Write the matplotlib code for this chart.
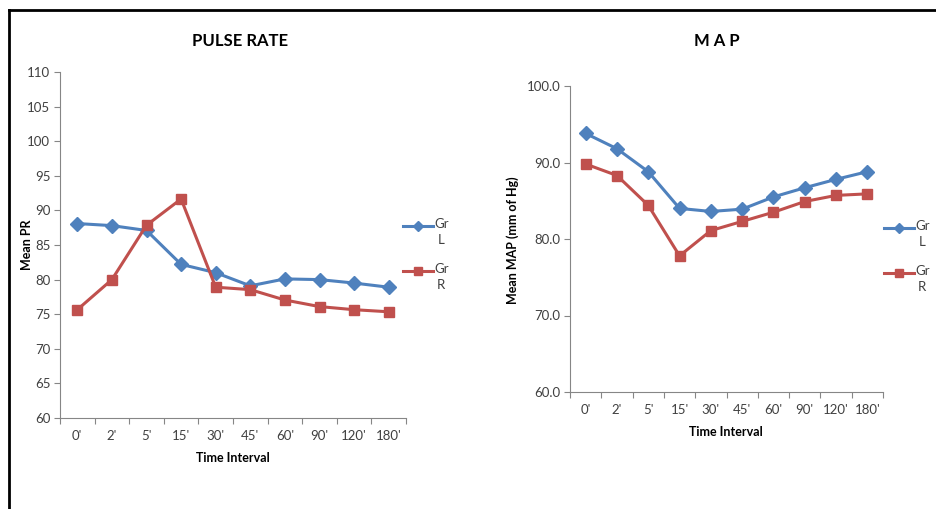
import matplotlib.pyplot as plt
from matplotlib.lines import Line2D

plt.rcParams['font.family'] = ['Lato', 'DejaVu Sans']

# Data
times = ["0'", "2'", "5'", "15'", "30'", "45'", "60'", "90'", "120'", "180'"]
pr_gr_l = [88.1, 87.8, 87.1, 82.2, 81.0, 79.1, 80.1, 80.0, 79.5, 78.9]
pr_gr_r = [75.65, 80.0, 87.85, 91.65, 78.9, 78.55, 77.05, 76.1, 75.65, 75.35]
map_gr_l = [93.8, 91.8, 88.8, 84.0, 83.6, 83.9, 85.5, 86.7, 87.8, 88.8]
map_gr_r = [89.8, 88.3, 84.4, 77.8, 81.1, 82.3, 83.5, 84.9, 85.7, 85.9]

blue = '#4F81BD'
red = '#C0504D'
axis_gray = '#868686'
text_col = '#404040'

W, H = 936, 509
fig = plt.figure(figsize=(W / 100, H / 100), dpi=100)


def px(x, y):
    # pixel position -> figure fraction
    return x / W, 1 - y / H


def style_axes(ax, ylim, yticks, fmt):
    n = len(times)
    x = list(range(n))
    ax.set_xlim(-0.5, n - 0.5)
    ax.set_ylim(*ylim)
    ax.set_yticks(yticks)
    ax.set_yticklabels([fmt.format(v) for v in yticks], fontsize=9.5, color=text_col)
    ax.set_xticks(x)
    ax.set_xticklabels(times, fontsize=9.5, color=text_col)
    ax.set_xticks([i - 0.5 for i in range(n + 1)], minor=True)
    ax.tick_params(axis='x', which='major', length=0, pad=9)
    ax.tick_params(axis='x', which='minor', length=4, color=axis_gray, width=0.8)
    ax.tick_params(axis='y', length=4, color=axis_gray, width=0.8, pad=3)
    for s in ['top', 'right']:
        ax.spines[s].set_visible(False)
    for s in ['left', 'bottom']:
        ax.spines[s].set_color(axis_gray)
        ax.spines[s].set_linewidth(0.8)
    return x


def draw_legend(x0, y0):
    # manual Excel-like legend: handle on the "Gr" line, wrapped text below
    for i, (c, m, ms, lab) in enumerate([(blue, 'D', 5, 'Gr\nL'), (red, 's', 6, 'Gr\nR')]):
        y = y0 + i * 45
        xa, ya = px(x0, y)
        xb, _ = px(x0 + 30, y)
        xm, _ = px(x0 + 15, y)
        fig.add_artist(Line2D([xa, xb], [ya, ya], color=c, lw=2.2))
        fig.add_artist(Line2D([xm], [ya], color=c, marker=m, ms=ms, lw=0))
        tx, ty = px(x0 + 31, y - 8)
        fig.text(tx, ty, lab, fontsize=9.5, color=text_col, ha='left', va='top',
                 multialignment='center', linespacing=1.4)


# Pulse rate panel
l, b = px(60, 418)
ax1 = fig.add_axes([l, b, 346 / W, 346 / H])
x = style_axes(ax1, (60, 110), list(range(60, 111, 5)), '{:d}')
ax1.plot(x, pr_gr_l, color=blue, lw=2.2, marker='D', ms=7, clip_on=False)
ax1.plot(x, pr_gr_r, color=red, lw=2.2, marker='s', ms=6.5, clip_on=False)
fig.text(*px(240, 41), 'PULSE RATE', fontsize=12, fontweight='bold', ha='center', va='center', color='black')
fig.text(*px(233, 458), 'Time Interval', fontsize=9, fontweight='bold', ha='center', va='center', color='black')
fig.text(*px(27, 245), 'Mean PR', fontsize=9, fontweight='bold', ha='center', va='center', rotation=90, color='black')
draw_legend(403, 226)

# MAP panel
l, b = px(570, 392)
ax2 = fig.add_axes([l, b, 313 / W, 306 / H])
x = style_axes(ax2, (60, 100), [60, 70, 80, 90, 100], '{:.1f}')
ax2.plot(x, map_gr_l, color=blue, lw=2.2, marker='D', ms=7, clip_on=False)
ax2.plot(x, map_gr_r, color=red, lw=2.2, marker='s', ms=6.5, clip_on=False)
fig.text(*px(717, 41), 'M A P', fontsize=12, fontweight='bold', ha='center', va='center', color='black')
fig.text(*px(726, 432), 'Time Interval', fontsize=9, fontweight='bold', ha='center', va='center', color='black')
fig.text(*px(513, 240), 'Mean MAP (mm of Hg)', fontsize=9, fontweight='bold', ha='center', va='center', rotation=90, color='black')
draw_legend(884, 228)

# outer frame (top and left edges visible in the reference)
fig.add_artist(Line2D([px(9, 0)[0], 1], [px(0, 10)[1]] * 2, color='black', lw=2))
fig.add_artist(Line2D([px(9, 0)[0]] * 2, [px(0, 10)[1], 0], color='black', lw=2))

fig.savefig('out.png', dpi=100)
